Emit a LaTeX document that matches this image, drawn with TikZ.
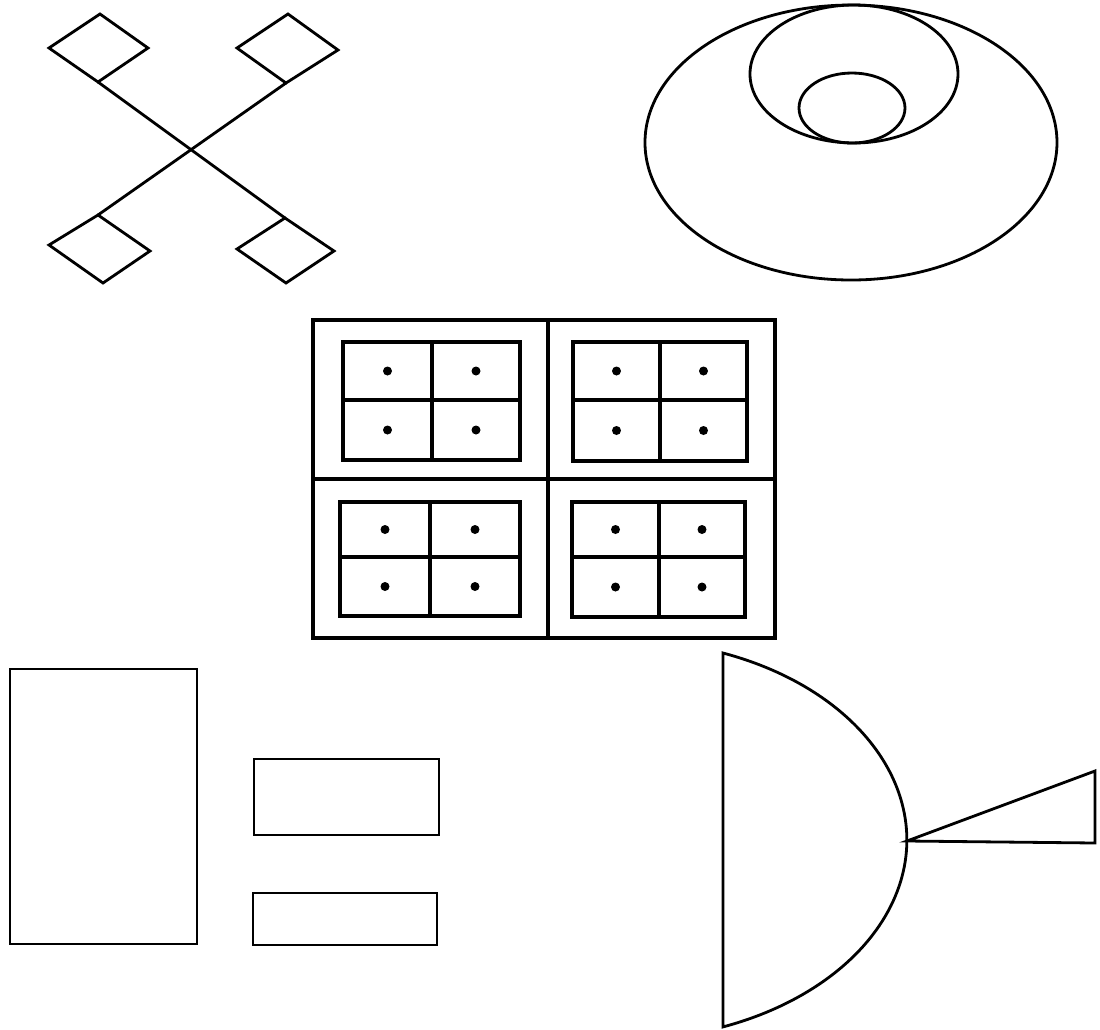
\documentclass[tikz,border=0pt]{standalone}
\usepackage{tikz}
\usetikzlibrary{calc}
\tikzset{
  outline/.style={draw=black,line width=1.4pt,line join=miter},
  heavy/.style={draw=black,line width=2pt},
  pip/.style={fill=black},
}

\begin{document}
\begin{tikzpicture}[x=0.5pt,y=-0.5pt]
  \useasboundingbox (0,0) rectangle (1100,1030);

  % cross with four diamonds
  \draw[outline] (98,82) -- (285,218);
  \draw[outline] (286,83) -- (98,215);
  \draw[outline] (49,48) -- (100,14) -- (148,48) -- (98,82) -- cycle;
  \draw[outline] (237,48) -- (288,14) -- (338,50) -- (286,83) -- cycle;
  \draw[outline] (98,215) -- (150,251) -- (103,283) -- (49,245) -- cycle;
  \draw[outline] (285,218) -- (334,251) -- (286,283) -- (237,249) -- cycle;

  % nested ellipses
  \draw[outline] (851,142.5) ellipse [x radius=206,y radius=137.5];
  \draw[outline] (854,74) ellipse [x radius=104,y radius=69];
  \draw[outline] (852,108) ellipse [x radius=53,y radius=35];

  % window grid
  \draw[heavy] (313,320) rectangle (775,638);
  \draw[heavy] (548,320) -- (548,638);
  \draw[heavy] (313,479) -- (775,479);
  \foreach \l/\t/\r/\b/\mx/\my in {343/342/520/460/432/400, 573/342/747/461/660/400,
                                   340/502/520/616/430/557, 572/502/745/617/659/557}{
    \draw[heavy] (\l,\t) rectangle (\r,\b);
    \draw[heavy] (\mx,\t) -- (\mx,\b);
    \draw[heavy] (\l,\my) -- (\r,\my);
    \pgfmathsetmacro{\xa}{0.5*(\l+\mx)}
    \pgfmathsetmacro{\xb}{0.5*(\mx+\r)}
    \pgfmathsetmacro{\ya}{0.5*(\t+\my)}
    \pgfmathsetmacro{\yb}{0.5*(\my+\b)}
    \foreach \px in {\xa,\xb}
      \foreach \py in {\ya,\yb}
        \fill[pip] (\px,\py) circle[radius=4.5];
  }

  % three plain boxes
  \draw[outline] (10,669) rectangle (197,944);
  \draw[outline] (254,759) rectangle (439,835);
  \draw[outline] (253,893) rectangle (437,945);

  % dish with cone
  \draw[outline] (723,653) arc[start angle=-69.2,end angle=69.2,x radius=285,y radius=200] -- cycle;
  \draw[outline] (907,841) -- (1095,771) -- (1095,843) -- cycle;
\end{tikzpicture}
\end{document}
